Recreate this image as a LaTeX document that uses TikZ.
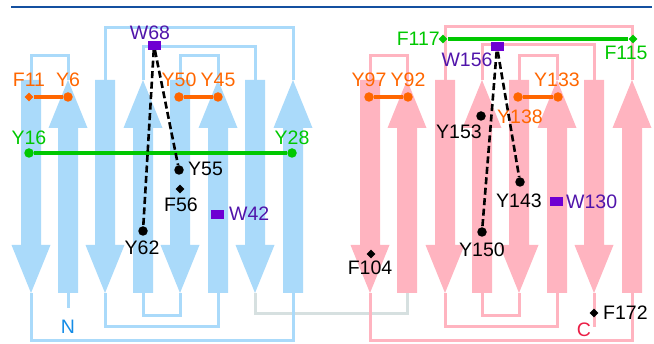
\documentclass[tikz,border=0pt]{standalone}
\usepackage{fontspec}
\setmainfont{Liberation Sans}
\usepackage{tikz}
\usetikzlibrary{shapes.geometric}

\definecolor{sheetblue}{RGB}{170,218,250}
\definecolor{sheetpink}{RGB}{255,180,192}
\definecolor{linkgray}{RGB}{214,224,224}
\definecolor{resorange}{RGB}{255,102,0}
\definecolor{resgreen}{RGB}{0,200,0}
\definecolor{trpviolet}{RGB}{110,0,210}
\definecolor{trptext}{RGB}{80,20,170}
\definecolor{ntblue}{RGB}{20,140,230}
\definecolor{ctred}{RGB}{235,30,70}
\definecolor{rulecol}{RGB}{20,80,160}

\begin{document}
\begin{tikzpicture}[x=1pt, y=-1pt, font=\fontsize{19.5}{21}\selectfont,
    pics/upstrand/.style={code={
      \fill[pic actions] (-10,293) -- (-10,128) -- (-19.5,128) -- (0,80)
        -- (19.5,128) -- (10,128) -- (10,293) -- cycle;
      \coordinate (-top) at (0,80);
      \coordinate (-bot) at (0,293);}},
    pics/downstrand/.style={code={
      \fill[pic actions] (-10,80) -- (-10,245) -- (-19.5,245) -- (0,293)
        -- (19.5,245) -- (10,245) -- (10,80) -- cycle;
      \coordinate (-top) at (0,80);
      \coordinate (-bot) at (0,293);}},
    bloop/.style={draw=sheetblue, line width=3pt},
    ploop/.style={draw=sheetpink, line width=3pt},
    glink/.style={draw=linkgray, line width=3pt},
    resdot/.style={circle, fill=#1, inner sep=0pt, minimum size=9.5pt},
    resdot/.default=black,
    resdmd/.style={diamond, fill=#1, inner sep=0pt, minimum size=9pt},
    resdmd/.default=black,
    trpbox/.style={rectangle, fill=trpviolet, inner sep=0pt, minimum width=13pt, minimum height=9pt},
    lbl/.style={inner sep=0pt, text=#1},
    lbl/.default=black,
    stack/.style={draw=#1, line width=3.5pt},
    contact/.style={draw=black, line width=2.6pt, dash pattern=on 7pt off 3.5pt}]
    \useasboundingbox (0,0) rectangle (654,344);

    % Rule
    \draw[rulecol, line width=2pt] (11,7) -- (652,7);

    % Strands, first domain
    \pic[fill=sheetblue] (a1) at (31,0) {downstrand};
    \pic[fill=sheetblue] (a2) at (68,0) {upstrand};
    \pic[fill=sheetblue] (a3) at (105,0) {downstrand};
    \pic[fill=sheetblue] (a4) at (143,0) {upstrand};
    \pic[fill=sheetblue] (a5) at (180,0) {downstrand};
    \pic[fill=sheetblue] (a6) at (218,0) {upstrand};
    \pic[fill=sheetblue] (a7) at (255,0) {downstrand};
    \pic[fill=sheetblue] (a8) at (293,0) {upstrand};

    % Strands, second domain
    \pic[fill=sheetpink] (b1) at (370,0) {downstrand};
    \pic[fill=sheetpink] (b2) at (407,0) {upstrand};
    \pic[fill=sheetpink] (b3) at (445,0) {downstrand};
    \pic[fill=sheetpink] (b4) at (482,0) {upstrand};
    \pic[fill=sheetpink] (b5) at (519,0) {downstrand};
    \pic[fill=sheetpink] (b6) at (557,0) {upstrand};
    \pic[fill=sheetpink] (b7) at (594,0) {downstrand};
    \pic[fill=sheetpink] (b8) at (632,0) {upstrand};

    % Linker between the domains
    \draw[glink] (a7-bot) -- ++(0,21) -| (b2-bot);

    % Loops, first domain
    \draw[bloop] (a1-top) -- ++(0,-24) -| (a2-top);
    \draw[bloop] (a3-top) -- ++(0,-52) -| (a8-top);
    \draw[bloop] (a4-top) -- ++(0,-33) -| (a7-top);
    \draw[bloop] (a5-top) -- ++(0,-24) -| (a6-top);
    \draw[bloop] (a1-bot) -- ++(0,48) -| (a8-bot);
    \draw[bloop] (a3-bot) -- ++(0,34) -| (a6-bot);
    \draw[bloop] (a4-bot) -- ++(0,23) -| (a5-bot);
    \draw[bloop] (a2-bot) -- ++(0,15) coordinate (nend);

    % Loops, second domain
    \draw[ploop] (b1-top) -- ++(0,-24) -| (b2-top);
    \draw[ploop] (b3-top) -- ++(0,-53) -| (b8-top);
    \draw[ploop] (b4-top) -- ++(0,-35) -| (b7-top);
    \draw[ploop] (b5-top) -- ++(0,-24) -| (b6-top);
    \draw[ploop] (b1-bot) -- ++(0,48) -| (b8-bot);
    \draw[ploop] (b3-bot) -- ++(0,34) -| (b6-bot);
    \draw[ploop] (b4-bot) -- ++(0,23) -| (b5-bot);
    \draw[ploop] (b7-bot) -- ++(0,34) coordinate (cend);

    % Termini
    \node[lbl=ntblue] (nlab) at (68,327) {N};
    \node[lbl=ctred] (clab) at (584,330) {C};

    % Residues, first domain
    \node[trpbox] (W68) at (154,45.5) {};
    \node[lbl=trptext] (tW68) at (150,33) {W68};
    \node[resdmd=resorange] (F11) at (29,97) {};
    \node[resdot=resorange] (Y6) at (68,97) {};
    \node[resdot=resorange] (Y50) at (179,97) {};
    \node[resdot=resorange] (Y45) at (218,97) {};
    \node[lbl=resorange] (tF11) at (29,80) {F11};
    \node[lbl=resorange] (tY6) at (68,80) {Y6};
    \node[lbl=resorange] (tY50) at (179,80) {Y50};
    \node[lbl=resorange] (tY45) at (218,80) {Y45};
    \node[resdot=resgreen] (Y16) at (29,153) {};
    \node[resdot=resgreen] (Y28) at (292,153) {};
    \node[lbl=resgreen] (tY16) at (29,138) {Y16};
    \node[lbl=resgreen] (tY28) at (292,138) {Y28};
    \node[resdot] (Y55) at (179,170) {};
    \node[lbl, anchor=west] (tY55) at (188,169) {Y55};
    \node[resdmd] (F56) at (180,189) {};
    \node[lbl] (tF56) at (181,205) {F56};
    \node[resdot] (Y62) at (143,231) {};
    \node[lbl] (tY62) at (142,248) {Y62};
    \node[trpbox] (W42) at (217,214.5) {};
    \node[lbl=trptext, anchor=west] (tW42) at (229,214) {W42};

    % Residues, second domain
    \node[resdmd=resgreen] (F117) at (443,39) {};
    \node[resdmd=resgreen] (F115) at (633,39) {};
    \node[lbl=resgreen, anchor=east] (tF117) at (440,39) {F117};
    \node[lbl=resgreen] (tF115) at (626,53) {F115};
    \node[trpbox] (W156) at (497,47) {};
    \node[lbl=trptext] (tW156) at (467,60) {W156};
    \node[resdot=resorange] (Y97) at (369,97) {};
    \node[resdot=resorange] (Y92) at (408,97) {};
    \node[resdot=resorange] (Y138) at (518,97) {};
    \node[resdot=resorange] (Y133) at (558,97) {};
    \node[lbl=resorange] (tY97) at (369,80) {Y97};
    \node[lbl=resorange] (tY92) at (408,80) {Y92};
    \node[lbl=resorange] (tY133) at (557,80) {Y133};
    \node[lbl=resorange] (tY138) at (520,117) {Y138};
    \node[resdot] (Y153) at (481,116) {};
    \node[lbl] (tY153) at (459,132) {Y153};
    \node[resdot] (Y143) at (520,182) {};
    \node[lbl] (tY143) at (519,201) {Y143};
    \node[trpbox] (W130) at (556,202) {};
    \node[lbl=trptext, anchor=west] (tW130) at (566,202) {W130};
    \node[resdot] (Y150) at (482,232) {};
    \node[lbl] (tY150) at (482,250) {Y150};
    \node[resdmd] (F104) at (371,254) {};
    \node[lbl] (tF104) at (370,268) {F104};
    \node[resdmd] (F172) at (594,313) {};
    \node[lbl, anchor=west] (tF172) at (603,313) {F172};

    % Stacking pairs
    \draw[stack=resorange] (F11) -- (Y6);
    \draw[stack=resorange] (Y50) -- (Y45);
    \draw[stack=resorange] (Y97) -- (Y92);
    \draw[stack=resorange] (Y138) -- (Y133);
    \draw[stack=resgreen] (Y16) -- (Y28);
    \draw[stack=resgreen] (F117) -- (F115);

    % Contacts from the buried Trp
    \draw[contact] (W68) -- (Y62);
    \draw[contact] (W68) -- (Y55);
    \draw[contact] (W156) -- (Y150);
    \draw[contact] (W156) -- (Y143);
\end{tikzpicture}
\end{document}
